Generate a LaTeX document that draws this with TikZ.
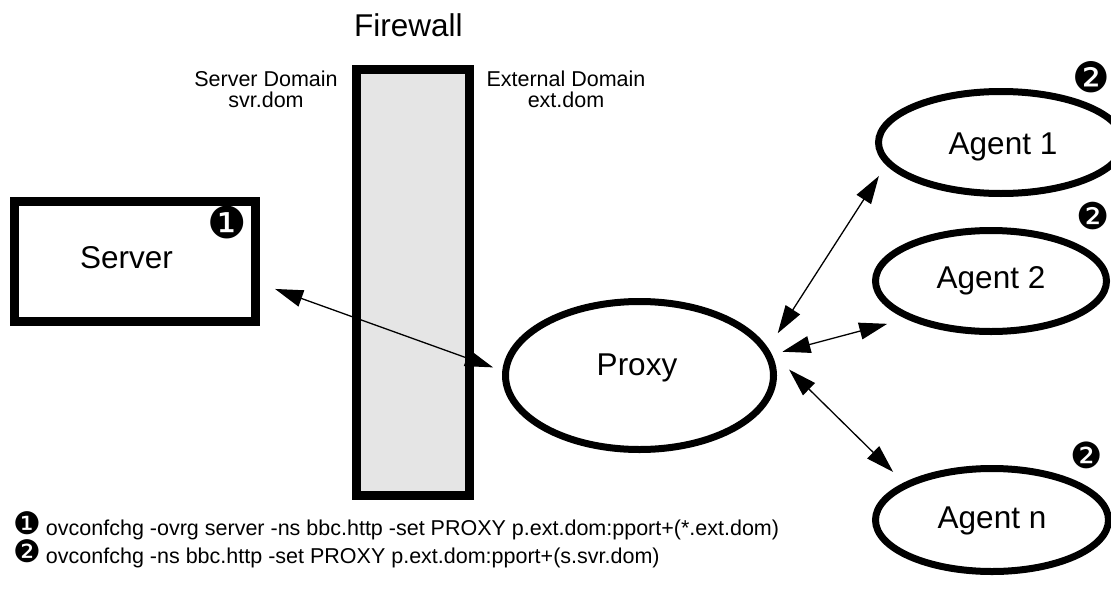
\documentclass[tikz,border=0pt]{standalone}
\usepackage{fontspec}
\setmainfont{Liberation Sans}
\newfontfamily\dingfnt{DejaVu Sans}
\usetikzlibrary{shapes.geometric,arrows.meta}
\begin{document}
\begin{tikzpicture}[x=1pt,y=-1pt,
  thickbox/.style={draw, line width=9pt, rectangle, inner sep=0pt},
  oval/.style={draw, line width=7pt, ellipse, inner sep=0pt},
  bigtxt/.style={font=\fontsize{31.5}{36}\selectfont, inner sep=0pt, anchor=base},
  smalltxt/.style={font=\fontsize{21.5}{21.5}\selectfont, inner sep=0pt, align=center, anchor=north},
  cmdtxt/.style={font=\fontsize{21.5}{21.5}\selectfont, inner sep=0pt, anchor=base west},
  link/.style={line width=1.3pt, {Triangle[length=28pt,width=17pt]}-{Triangle[length=28pt,width=17pt]}},
]
\useasboundingbox (0,0) rectangle (1111,589);
\clip (0,0) rectangle (1111,589);

% boxes
\node[thickbox, fill=black!10, minimum width=113pt, minimum height=426pt] (firewall) at (413,282.5) {};
\node[thickbox, fill=white, minimum width=241pt, minimum height=120pt] (server) at (135,261.5) {};
\node[oval, minimum width=268pt, minimum height=148pt] (proxy) at (639.5,375.5) {};
\node[oval, minimum width=245pt, minimum height=102pt] (agent1) at (1001,142.5) {};
\node[oval, minimum width=231pt, minimum height=101pt] (agent2) at (991,281) {};
\node[oval, minimum width=233pt, minimum height=103pt] (agentn) at (992,520) {};

% labels
\node[bigtxt] (fwlbl) at (408.5,36.5) {Firewall};
\node[bigtxt] (serverlbl) at (126.5,268) {Server};
\node[bigtxt] (proxylbl) at (637,375) {Proxy};
\node[bigtxt] (agent1lbl) at (1003,154) {Agent 1};
\node[bigtxt] (agent2lbl) at (991,288) {Agent 2};
\node[bigtxt] (agentnlbl) at (992,528) {Agent n};
\node[smalltxt] (svrdom) at (266,70.5) {Server Domain\\svr.dom};
\node[smalltxt] (extdom) at (566,70.5) {External Domain\\ext.dom};

% numbered marks
\node[inner sep=0pt, font=\dingfnt\fontsize{44}{44}\selectfont] (m1) at (227,222) {❶};
\node[inner sep=0pt, font=\dingfnt\fontsize{42}{42}\selectfont] (m2a) at (1091,77) {❷};
\node[inner sep=0pt, font=\dingfnt\fontsize{37}{37}\selectfont] (m2b) at (1093,216) {❷};
\node[inner sep=0pt, font=\dingfnt\fontsize{36}{36}\selectfont] (m2n) at (1087,455) {❷};

% commands
\node[cmdtxt] (cmd1) at (13,535) {\raisebox{1pt}{\dingfnt\fontsize{31}{31}\selectfont ❶}\hspace{5pt}ovconfchg -ovrg server -ns bbc.http -set PROXY p.ext.dom:pport+(*.ext.dom)};
\node[cmdtxt] (cmd2) at (13,563) {\raisebox{1pt}{\dingfnt\fontsize{31}{31}\selectfont ❷}\hspace{5pt}ovconfchg -ns bbc.http -set PROXY p.ext.dom:pport+(s.svr.dom)};

% connectors
\draw[link, shorten <=16pt, shorten >=9.8pt] (server.350.95) -- (proxy.178.3);
\draw[link, shorten <=17.7pt, shorten >=13.2pt] (proxy.12.7) -- (agent1.191.7);
\draw[link, shorten <=10.9pt, shorten >=19.5pt] (proxy.9.4) -- (agent2.204.4);
\draw[link, shorten <=27.5pt, shorten >=15.2pt] (proxy.11.8) -- (agentn.157.1);
\end{tikzpicture}
\end{document}
